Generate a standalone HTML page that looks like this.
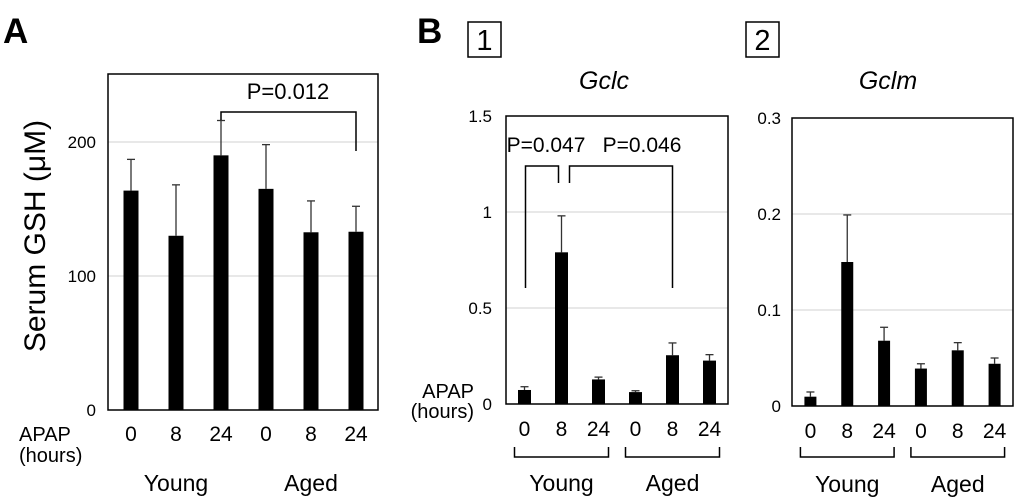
<!DOCTYPE html>
<html><head><meta charset="utf-8"><style>
body{margin:0;background:#fff;}
svg{display:block;font-family:"Liberation Sans",Arial,sans-serif;}
</style></head><body>
<svg id="fig" width="1020" height="502" viewBox="0 0 1020 502" xmlns="http://www.w3.org/2000/svg">
<text x="3" y="43" font-size="35" font-weight="bold">A</text>
<text x="417" y="43" font-size="35" font-weight="bold">B</text>
<rect x="468" y="22" width="33" height="35" fill="none" stroke="#000" stroke-width="1.5"/>
<text x="484.5" y="50" font-size="29" text-anchor="middle">1</text>
<rect x="746" y="22" width="33" height="35" fill="none" stroke="#000" stroke-width="1.5"/>
<text x="762.5" y="50" font-size="29" text-anchor="middle">2</text>
<text x="604" y="89" font-size="25" font-style="italic" text-anchor="middle">Gclc</text>
<text x="888" y="89" font-size="25" font-style="italic" text-anchor="middle">Gclm</text>
<text transform="translate(45,236) rotate(-90)" font-size="30" text-anchor="middle">Serum GSH (μM)</text>
<g id="charts"></g>
</svg>
<script>
const categories = ["0","8","24","0","8","24"];
const groups = ["Young","Aged"];
const gshValues = [163.7,130,190,165,132.6,133];
const gshErrors = [187,168,216,198,156,152];
const gshTicks = [0,100,200];
const gclcValues = [0.073,0.79,0.128,0.062,0.254,0.226];
const gclcErrors = [0.09,0.98,0.14,0.069,0.318,0.257];
const gclcTicks = [0,0.5,1,1.5];
const gclmValues = [0.0097,0.150,0.068,0.039,0.058,0.044];
const gclmErrors = [0.0146,0.199,0.082,0.044,0.066,0.050];
const gclmTicks = [0,0.1,0.2,0.3];

const NS="http://www.w3.org/2000/svg";
const root=document.getElementById('charts');
function mk(tag,attrs,parent){const e=document.createElementNS(NS,tag);for(const k in attrs)e.setAttribute(k,attrs[k]);(parent||root).appendChild(e);return e;}

function chart(cfg){
  const g=mk('g',{});
  
  
  const y=v=>cfg.y0-(v-cfg.vmin)/(cfg.vmax-cfg.vmin)*(cfg.y0-cfg.y1);
  const bw=(cfg.x1-cfg.x0)/categories.length;
  const x=i=>cfg.x0+bw*(i+0.5)+(cfg.xoff||0);
  cfg.ticks.forEach(t=>{
    if(t>cfg.vmin && t<cfg.vmax){
      const gl=mk('line',{x1:cfg.x0,x2:cfg.x1,y1:y(t),y2:y(t),stroke:'#d0d0d0','stroke-width':1},g);
      
      
    }
    const tl=mk('text',{x:cfg.tickX,y:y(t)+6,'font-size':17,'text-anchor':'end'},g);
    tl.textContent=String(t);
    
    
  });
  const fr=mk('rect',{x:cfg.x0,y:cfg.y1,width:cfg.x1-cfg.x0,height:cfg.y0-cfg.y1,fill:'none',stroke:'#000','stroke-width':1.5},g);
  
  
  cfg.values.forEach((v,i)=>{
    const cx=x(i);
    const el=mk('line',{x1:cx,x2:cx,y1:y(v),y2:y(cfg.errors[i]),stroke:'#333','stroke-width':1.3},g);
    
    
    const cap=mk('line',{x1:cx-4,x2:cx+4,y1:y(cfg.errors[i]),y2:y(cfg.errors[i]),stroke:'#333','stroke-width':1.3},g);
    
    
    const b=mk('rect',{x:cx-cfg.barW/2,y:y(v),width:cfg.barW,height:y(cfg.vmin)-y(v),fill:'#000'},g);
    
    
    const xl=mk('text',{x:cx,y:cfg.xlabY,'font-size':21,'text-anchor':'middle'},g);
    xl.textContent=categories[i];
    
    
  });
  groups.forEach((gn,k)=>{
    const a=x(k*3), b=x(k*3+2);
    if(cfg.brackets){
      const br=mk('path',{d:`M${a-10},447 V457 H${b+10} V447`,fill:'none',stroke:'#000','stroke-width':1.5},g);
      
      
    }
    const gl=mk('text',{x:(a+b)/2,y:cfg.groupY,'font-size':23,'text-anchor':'middle'},g);
    gl.textContent=gn;
    
    
  });
  return {g,x,y};
}

const A=chart({name:'gsh-chart',x0:108,x1:378,y0:410,y1:74,vmin:0,vmax:250.7,ticks:gshTicks,values:gshValues,errors:gshErrors,barW:15,tickX:96,xlabY:441,groupY:491,brackets:false,xoff:0.5});
const B1=chart({name:'gclc-chart',x0:506,x1:728,y0:404,y1:116,vmin:0,vmax:1.5,ticks:gclcTicks,values:gclcValues,errors:gclcErrors,barW:13,tickX:492,xlabY:436,groupY:491,brackets:true});
const B2=chart({name:'gclm-chart',x0:792,x1:1013,y0:406,y1:118,vmin:0,vmax:0.3,ticks:gclmTicks,values:gclmValues,errors:gclmErrors,barW:12,tickX:781,xlabY:438,groupY:492,brackets:true});

function sig(d,name,g){const p=mk('path',{d,fill:'none',stroke:'#000','stroke-width':1.5},g);}
function txt(x,yv,s,name,g,fs){const t=mk('text',{x,y:yv,'font-size':fs,'text-anchor':'middle'},g);t.textContent=s;}
sig(`M${A.x(2)},120 V112 H${A.x(5)} V151`,'p-bracket-gsh',A.g);
txt(288,99,'P=0.012','p-value-gsh',A.g,22);
sig(`M${B1.x(0)+1},288 V166 H${B1.x(1)-3} V183`,'p-bracket-gclc-young',B1.g);
sig(`M${B1.x(1)+8},183 V166 H${B1.x(4)} V288`,'p-bracket-gclc-aged',B1.g);
txt(546,152,'P=0.047','p-value-gclc-1',B1.g,21);
txt(642,152,'P=0.046','p-value-gclc-2',B1.g,21);

[[19,441,'APAP','start'],[19,462,'(hours)','start'],[474,398,'APAP','end'],[474,418,'(hours)','end']].forEach(a=>{
  const t=mk('text',{x:a[0],y:a[1],'font-size':20,'text-anchor':a[3]});
  t.textContent=a[2];
  
  
});
</script>
</body></html>
